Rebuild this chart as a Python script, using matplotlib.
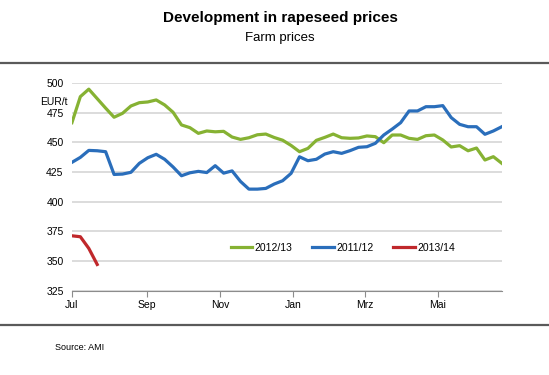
import datetime as dt
import matplotlib
matplotlib.use('Agg')
import matplotlib.pyplot as plt
from matplotlib.lines import Line2D

plt.rcParams['font.family'] = ['Liberation Sans', 'DejaVu Sans']

# weekly farm prices, EUR/t, season starting 1 July
start = dt.date(2012, 7, 1)

p_2012_13 = [466.7, 488.7, 495, 487, 479, 471.3, 474.6, 480.8, 483.6, 484.2,
             485.9, 481.7, 475.5, 464.8, 462.5, 457.7, 459.7, 459, 459.4, 454.6,
             452.6, 454, 456.5, 457.1, 454.2, 451.9, 447.5, 442.2, 445, 451.8,
             454.3, 457.1, 454, 453.5, 453.8, 455.5, 454.9, 449.8, 456.3, 456.3,
             453.5, 452.6, 455.7, 456.3, 452.1, 446.2, 447.3, 443, 445.3, 435.2,
             438, 432.4]
p_2011_12 = [433.2, 437.4, 443.3, 443, 442.2, 423, 423.3, 424.8, 432.4, 437.1,
             440, 435.8, 429.3, 421.9, 424.4, 425.6, 424.6, 430.4, 424.1, 426,
             417.1, 410.6, 410.6, 411.2, 414.9, 417.7, 423.9, 437.9, 434.6, 435.8,
             440.2, 442.2, 440.8, 443.1, 445.9, 446.4, 449.3, 456.3, 461.3, 466.7,
             476.6, 476.6, 480.2, 480.2, 481.1, 471, 465.3, 463.3, 463.3, 456.9,
             459.7, 463.3]
p_2013_14 = [371.2, 370.4, 360.6, 347]

months = [dt.date(2012, 7, 1), dt.date(2012, 9, 1), dt.date(2012, 11, 1),
          dt.date(2013, 1, 1), dt.date(2013, 3, 1), dt.date(2013, 5, 1)]
month_labels = ['Jul', 'Sep', 'Nov', 'Jan', 'Mrz', 'Mai']

weeks = [start + dt.timedelta(days=7 * i) for i in range(len(p_2012_13))]

green = '#86b233'
blue = '#2a6ebb'
red = '#c0282b'

fig = plt.figure(figsize=(5.49, 3.75), dpi=100)
ax = fig.add_axes([0.131, 0.2253, 0.783, 0.5527])

ax.plot(weeks, p_2012_13, color=green, lw=2.3, label='2012/13')
ax.plot(weeks, p_2011_12, color=blue, lw=2.3, label='2011/12')
ax.plot(weeks[:len(p_2013_14)], p_2013_14, color=red, lw=2.3, label='2013/14')

ax.set_xlim(weeks[0], weeks[-1])
ax.set_ylim(325, 500)
ax.set_yticks(range(325, 501, 25))
ax.set_xticks(months)
ax.set_xticklabels(month_labels)
ax.grid(axis='y', color='#d9d9d9', lw=1.3)
ax.set_axisbelow(True)
for s in ['top', 'right', 'left']:
    ax.spines[s].set_visible(False)
ax.spines['bottom'].set_color('#8c8c8c')
ax.tick_params(axis='y', length=0, labelsize=7.5, pad=6)
ax.tick_params(axis='x', length=4, color='#8c8c8c', labelsize=7.5, pad=3)

ax.text(-0.075, 0.91, 'EUR/t', transform=ax.transAxes, fontsize=7.5, ha='left', va='center')

ax.legend(loc='center', bbox_to_anchor=(0.63, 0.205), ncol=3, frameon=False,
          fontsize=7.5, handlelength=2.1, handletextpad=0.2, columnspacing=1.9)

fig.text(0.51, 0.952, 'Development in rapeseed prices', ha='center', va='center',
         fontsize=11, fontweight='bold')
fig.text(0.51, 0.9, 'Farm prices', ha='center', va='center', fontsize=9.5)
fig.text(0.1, 0.072, 'Source: AMI', ha='left', va='center', fontsize=6.5)

for yy in [1 - 62.5 / 375, 1 - 324.5 / 375]:
    fig.add_artist(Line2D([0, 1], [yy, yy], transform=fig.transFigure,
                          color='#5a5a5a', lw=1.6))

fig.savefig('out.png', dpi=100)
